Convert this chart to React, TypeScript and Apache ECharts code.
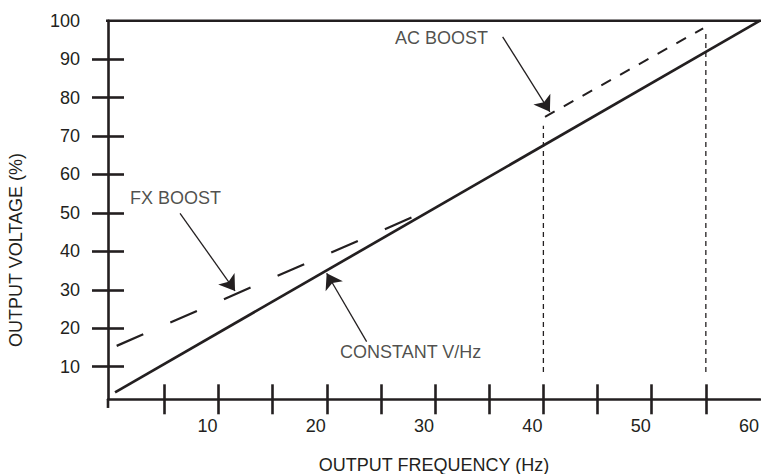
import React, { useEffect, useRef } from "react";
import * as echarts from "echarts";

// ---- data ----
const yTickValues = [10, 20, 30, 40, 50, 60, 70, 80, 90];
const yLabelValues = [10, 20, 30, 40, 50, 60, 70, 80, 90, 100];
const xTickValues = [5, 10, 15, 20, 25, 30, 35, 40, 45, 50, 55];
const xLabelValues = [10, 20, 30, 40, 50, 60];

const constantVHz = [
  [0.45, 3.3],
  [60, 100],
];
const fxBoost = [
  [0.6, 15.4],
  [28, 49],
];
const acBoost = [
  [40.15, 75],
  [54.75, 98],
];
const acLimitLeft = [
  [40, 8.6],
  [40, 72.7],
];
const acLimitRight = [
  [55, 8.6],
  [55, 96.8],
];
const topFrame = [
  [-1.46, 100],
  [60.1, 100],
];
const yAxisStub = [
  [-0.2, 1.5],
  [-0.2, -0.75],
];

const annotationNames = ["FX BOOST", "CONSTANT V/Hz", "AC BOOST"];
const annotationLabelAt = [
  [1.84, 54],
  [21.22, 13.8],
  [26.3, 95.5],
];
const arrowTails = [
  [6.45, 49.9],
  [23.68, 16.5],
  [36.24, 95.8],
];
const arrowTips = [
  [11.53, 29.7],
  [19.99, 34.3],
  [40.6, 76.3],
];

const X_MIN = -0.2;
const X_MAX = 60;
const Y_MIN = 1.5;
const Y_MAX = 100;

const INK = "#231f20";
const FONT = "'Liberation Sans', Arial, Helvetica, sans-serif";

export default function App() {
  const ref = useRef<HTMLDivElement>(null);

  useEffect(() => {
    if (!ref.current) return;
    const chart = echarts.init(ref.current, undefined, { renderer: "svg" });

    const baseX = {
      type: "value",
      min: X_MIN,
      max: X_MAX,
      position: "bottom",
      gridIndex: 0,
      splitLine: { show: false },
    };
    const baseY = {
      type: "value",
      min: Y_MIN,
      max: Y_MAX,
      position: "left",
      gridIndex: 0,
      splitLine: { show: false },
    };

    const lineSeries = (data: number[][], width: number, type: any, clip = true) => ({
      type: "line",
      xAxisIndex: 0,
      yAxisIndex: 0,
      data,
      symbol: "none",
      clip,
      silent: true,
      lineStyle: { color: INK, width, type, cap: "butt" },
    });

    const option: any = {
      animation: false,
      backgroundColor: "#ffffff",
      grid: {
        left: 108,
        right: 1,
        top: 20.7,
        bottom: 74.7,
        containLabel: false,
        outerBoundsMode: "none",
      },
      xAxis: [
        {
          ...baseX,
          name: "OUTPUT FREQUENCY (Hz)",
          nameLocation: "middle",
          nameGap: 57,
          nameTextStyle: { color: INK, fontSize: 18, fontFamily: FONT },
          axisLine: { show: true, onZero: false, lineStyle: { color: INK, width: 2.6 } },
          axisTick: {
            show: true,
            inside: true,
            length: 15,
            customValues: xTickValues,
            lineStyle: { color: INK, width: 2.6 },
          },
          axisLabel: {
            show: true,
            customValues: xLabelValues,
            margin: 18,
            padding: [0, 22, 0, 0],
            color: INK,
            fontSize: 18,
            fontFamily: FONT,
          },
        },
        {
          ...baseX,
          axisLine: { show: false, onZero: false },
          axisTick: {
            show: true,
            inside: false,
            length: 15,
            customValues: xTickValues,
            lineStyle: { color: INK, width: 2.6 },
          },
          axisLabel: { show: false },
        },
      ],
      yAxis: [
        {
          ...baseY,
          name: "OUTPUT VOLTAGE (%)",
          nameLocation: "middle",
          nameGap: 83,
          nameRotate: 90,
          nameTextStyle: {
            color: INK,
            fontSize: 18,
            fontFamily: FONT,
            padding: [0, 80, 0, 0],
          },
          axisLine: { show: true, onZero: false, lineStyle: { color: INK, width: 2.6 } },
          axisTick: {
            show: true,
            inside: true,
            length: 16,
            customValues: yTickValues,
            lineStyle: { color: INK, width: 2.6 },
          },
          axisLabel: {
            show: true,
            customValues: yLabelValues,
            margin: 28,
            color: INK,
            fontSize: 18,
            fontFamily: FONT,
          },
        },
        {
          ...baseY,
          axisLine: { show: false, onZero: false },
          axisTick: {
            show: true,
            inside: false,
            length: 16,
            customValues: yTickValues,
            lineStyle: { color: INK, width: 2.6 },
          },
          axisLabel: { show: false },
        },
      ],
      series: [
        lineSeries(topFrame, 2.6, "solid", false),
        lineSeries(yAxisStub, 2.6, "solid", false),
        lineSeries(constantVHz, 2.7, "solid"),
        lineSeries(fxBoost, 2.2, [29, 29.5]),
        lineSeries(acBoost, 2.0, [11, 10.5]),
        lineSeries(acLimitLeft, 1.3, [5, 4]),
        lineSeries(acLimitRight, 1.3, [5, 4]),
        {
          type: "lines",
          coordinateSystem: "cartesian2d",
          xAxisIndex: 0,
          yAxisIndex: 0,
          silent: true,
          symbol: ["none", "arrow"],
          symbolSize: 15,
          lineStyle: { color: INK, width: 1.3, opacity: 1 },
          itemStyle: { color: INK },
          data: arrowTails.map((t, i) => ({ coords: [t, arrowTips[i]] })),
        },
        {
          type: "scatter",
          xAxisIndex: 0,
          yAxisIndex: 0,
          silent: true,
          symbolSize: 0,
          data: annotationLabelAt.map((p, i) => ({ value: p, name: annotationNames[i] })),
          label: {
            show: true,
            position: [0, 0],
            align: "left",
            verticalAlign: "middle",
            formatter: (p: any) => p.name,
            color: INK,
            fontSize: 18,
            fontFamily: FONT,
          },
        },
      ],
    };

    chart.setOption(option);
    return () => chart.dispose();
  }, []);

  return (
    <div
      ref={ref}
      style={{ position: "absolute", left: 0, top: 0, width: 761, height: 474 }}
    />
  );
}
